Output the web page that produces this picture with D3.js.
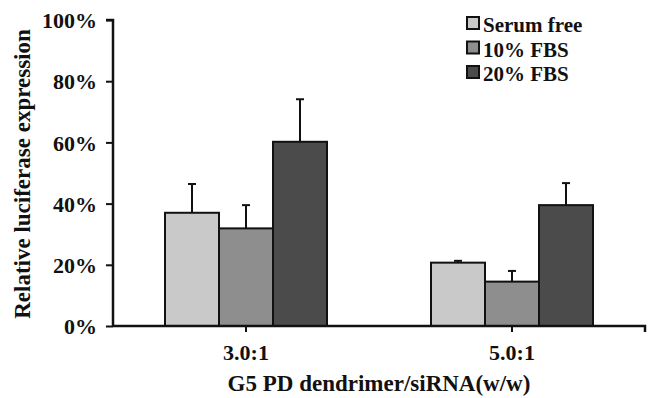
<!DOCTYPE html>
<html>
<head>
<meta charset="utf-8">
<script src="https://cdn.jsdelivr.net/npm/d3@7"></script>
<style>
  body { margin: 0; background: #fff; }
  text { font-family: "Liberation Serif", "Times New Roman", serif; font-weight: bold; fill: #111; }
</style>
</head>
<body>
<div id="chart"></div>
<script>
var categories = ["3.0:1", "5.0:1"];
var seriesNames = ["Serum free", "10% FBS", "20% FBS"];
var seriesColors = ["#c9c9c9", "#8e8e8e", "#4b4b4b"];
// values in %, one array per series (3.0:1, 5.0:1)
var serumFree = [37, 20.7];
var fbs10 = [31.9, 14.5];
var fbs20 = [60.2, 39.5];
// error bar tops (mean + sd)
var serumFreeErr = [46.4, 21.3];
var fbs10Err = [39.5, 18];
var fbs20Err = [74.1, 46.7];
var yTicks = [0, 20, 40, 60, 80, 100];

var values = [serumFree, fbs10, fbs20];
var errs = [serumFreeErr, fbs10Err, fbs20Err];

var width = 649, height = 398;
var margin = {top: 20, right: 4, bottom: 72, left: 113};

var svg = d3.select("#chart").append("svg")
  .attr("width", width)
  .attr("height", height);

var x0 = d3.scaleBand()
  .domain(categories)
  .range([margin.left, width - margin.right]);

var x1 = d3.scaleBand()
  .domain(d3.range(seriesNames.length))
  .range([0, 162]);

var y = d3.scaleLinear()
  .domain([0, 100])
  .range([height - margin.bottom, margin.top]);

var g = svg.append("g");

// bars
categories.forEach(function(cat, ci) {
  var start = x0(cat) + (x0.bandwidth() - 162) / 2;
  var grp = g.append("g").attr("transform", "translate(" + start + ",0)");
  seriesNames.forEach(function(s, si) {
    var bx = x1(si), bw = x1.bandwidth();
    var cx = bx + bw / 2;
    // error bar (upper only)
    grp.append("line")
      .attr("x1", cx).attr("x2", cx)
      .attr("y1", y(values[si][ci])).attr("y2", y(errs[si][ci]))
      .attr("stroke", "#111").attr("stroke-width", 2);
    grp.append("line")
      .attr("x1", cx - 4).attr("x2", cx + 4)
      .attr("y1", y(errs[si][ci])).attr("y2", y(errs[si][ci]))
      .attr("stroke", "#111").attr("stroke-width", 2);
    grp.append("rect")
      .attr("x", bx)
      .attr("y", y(values[si][ci]))
      .attr("width", bw)
      .attr("height", y(0) - y(values[si][ci]))
      .attr("fill", seriesColors[si])
      .attr("stroke", "#111")
      .attr("stroke-width", 2);
  });
});

// y axis
var yAxis = svg.append("g")
  .attr("transform", "translate(" + margin.left + ",0)")
  .call(d3.axisLeft(y).tickValues(yTicks).tickFormat(function(d) { return d + "%"; }).tickSize(7).tickPadding(9));
yAxis.select(".domain").attr("stroke", "#111").attr("stroke-width", 2.5)
  .attr("d", "M" + (-7) + "," + y(100) + "H0V" + y(0));
yAxis.selectAll(".tick line").attr("stroke", "#111").attr("stroke-width", 2);
yAxis.selectAll(".tick text")
  .attr("font-size", 22).attr("font-family", "Liberation Serif").attr("font-weight", "bold")
  .attr("fill", "#111").attr("dy", "0.35em");

// x axis
var xAxis = svg.append("g")
  .attr("transform", "translate(0," + y(0) + ")")
  .call(d3.axisBottom(x0).tickSize(6).tickPadding(12));
xAxis.select(".domain").attr("stroke", "#111").attr("stroke-width", 2.5)
  .attr("d", "M" + margin.left + ",0H" + (width - margin.right) + "V6");
xAxis.selectAll(".tick line").attr("stroke", "#111").attr("stroke-width", 2);
xAxis.selectAll(".tick text")
  .attr("font-size", 22).attr("font-family", "Liberation Serif").attr("font-weight", "bold")
  .attr("fill", "#111");

// axis titles
svg.append("text")
  .attr("x", 379).attr("y", 391)
  .attr("text-anchor", "middle")
  .attr("font-size", 23)
  .text("G5 PD dendrimer/siRNA(w/w)");

svg.append("text")
  .attr("transform", "translate(30,174) rotate(-90)")
  .attr("text-anchor", "middle")
  .attr("font-size", 23)
  .text("Relative luciferase expression");

// legend
var legend = svg.append("g").attr("transform", "translate(467,17)");
seriesNames.forEach(function(s, i) {
  var row = legend.append("g").attr("transform", "translate(0," + (i * 24.5) + ")");
  row.append("rect")
    .attr("x", 0).attr("y", 0)
    .attr("width", 12).attr("height", 12)
    .attr("fill", seriesColors[i])
    .attr("stroke", "#111").attr("stroke-width", 2);
  row.append("text")
    .attr("x", 16).attr("y", 15)
    .attr("font-size", 21)
    .text(s);
});
</script>
</body>
</html>
